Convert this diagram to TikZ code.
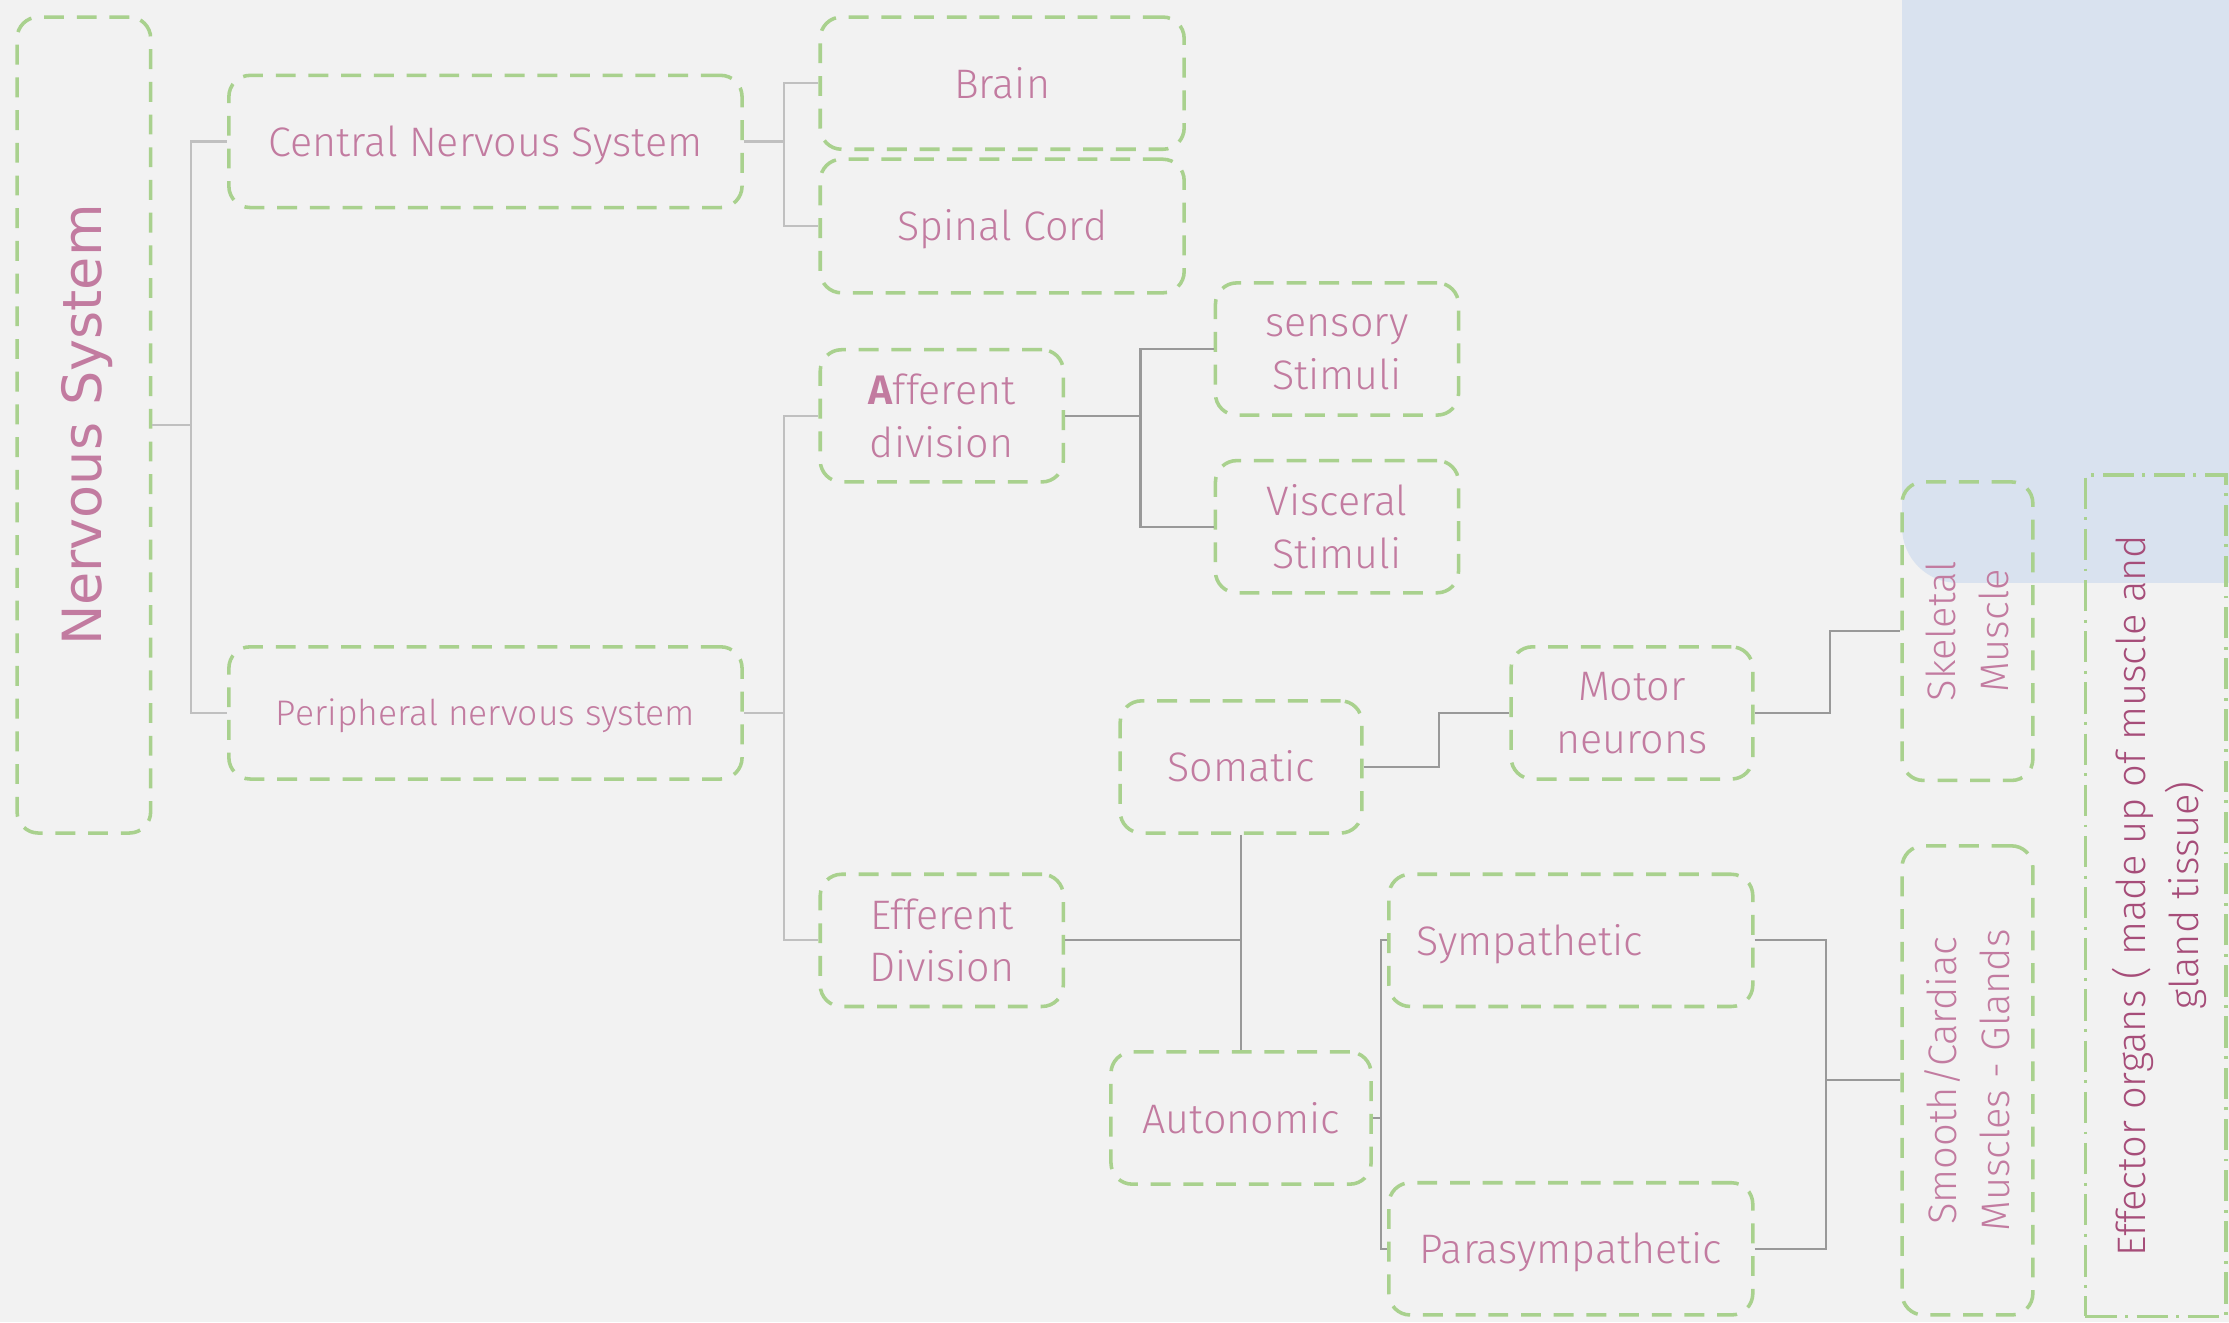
\documentclass[tikz,border=0pt]{standalone}
\usepackage{fontspec}
\setmainfont{Fira Sans Light}
\newfontfamily\nsfont{DejaVu Sans}
\definecolor{bg}{HTML}{F2F2F2}
\definecolor{grn}{HTML}{A9D18E}
\definecolor{pnk}{HTML}{C27BA0}
\definecolor{dpnk}{HTML}{A64D79}
\definecolor{blu}{HTML}{D9E2EF}
\definecolor{lnA}{HTML}{C0C0C0}
\definecolor{lnB}{HTML}{999999}
\begin{document}
\begin{tikzpicture}[x=1pt,y=-1pt,
 box/.style={draw=grn, line width=2.5pt, dash pattern=on 14pt off 9pt, rounded corners=15pt, text=pnk, font=\fontsize{29}{37}\selectfont, align=center, inner sep=0pt},
 one/.style={text height=26pt, text depth=5pt},
 rtext/.style={rotate=90, text=pnk, font=\fontsize{28}{37}\selectfont, align=center, inner sep=0pt},
 connA/.style={draw=lnA, line width=1.5pt},
 connB/.style={draw=lnB, line width=1.5pt}]
\useasboundingbox (0,0) rectangle (1568,930);
\clip (0,0) rectangle (1568,930);
\fill[bg] (0,0) rectangle (1568,930);
% blue panel
\fill[blu] (1620,-40) -- (1338,-40) -- (1338,371) .. controls (1338,392.5) and (1355.5,410) .. (1377,410) -- (1620,410) -- cycle;
% nodes
\node[box, minimum width=94pt, minimum height=574pt] (ns) at (59,299) {};
\node[rotate=90, text=pnk, font=\nsfont\fontsize{38}{44}\selectfont, inner sep=0pt] (nst) at (61,299) {Nervous System};
\node[box, one, minimum width=361pt, minimum height=93pt] (cns) at (341.5,99.5) {Central Nervous System};
\node[box, minimum width=361pt, minimum height=93pt, font=\fontsize{25}{30}\selectfont, text height=22pt, text depth=4pt] (pns) at (341.5,501.5) {Peripheral nervous system};
\node[box, one, minimum width=256pt, minimum height=93pt] (brain) at (705,58.5) {Brain};
\node[box, one, minimum width=256pt, minimum height=94pt] (spinal) at (705,159) {Spinal Cord};
\node[box, minimum width=171pt, minimum height=93pt] (aff) at (662.5,292.5) {\textbf{A}fferent\\division};
\node[box, minimum width=171pt, minimum height=93pt] (sens) at (940.5,245.5) {\vphantom{S}sensory\\Stimuli};
\node[box, minimum width=171pt, minimum height=93pt] (visc) at (940.5,370.5) {Visceral\\Stimuli};
\node[box, minimum width=171pt, minimum height=93pt] (eff) at (662.5,661.5) {Efferent\\Division};
\node[box, one, minimum width=170pt, minimum height=93pt] (som) at (873,539.5) {Somatic};
\node[box, one, minimum width=183pt, minimum height=93pt] (aut) at (873,786.5) {Autonomic};
\node[box, minimum width=170pt, minimum height=93pt] (mot) at (1148,501.5) {Motor\\neurons};
\node[box, one, minimum width=256pt, minimum height=93pt] (sym) at (1105,661.5) {\hspace*{-58pt}Sympathetic};
\node[box, one, minimum width=256pt, minimum height=93pt] (para) at (1105,878.5) {Parasympathetic};
\node[box, minimum width=92pt, minimum height=210pt] (sk) at (1384,444) {};
\node[rtext] (skt) at (sk) {Skeletal\\Muscle};
\node[box, minimum width=92pt, minimum height=330pt] (sm) at (1384,760) {};
\node[rtext] (smt) at (sm) {Smooth/Cardiac\\Muscles - Glands};
\node[draw=grn, line width=2.5pt, dash pattern=on 22pt off 6pt on 2pt off 6pt, minimum width=99pt, minimum height=592pt, inner sep=0pt] (effo) at (1516.5,630) {};
\node[rtext, text=dpnk] (effot) at (1519,630) {Effector organs ( made up of muscle and\\gland tissue)};
% connectors
\draw[connA] (ns.east) -- ++(27,0) coordinate (j1);
\draw[connA] (j1) |- (cns.west);
\draw[connA] (j1) |- (pns.west);
\draw[connA] (cns.east) -- ++(28,0) coordinate (j2);
\draw[connA] (j2) |- (brain.west);
\draw[connA] (j2) |- (spinal.west);
\draw[connA] (pns.east) -- ++(28,0) coordinate (j3);
\draw[connA] (j3) |- (aff.west);
\draw[connA] (j3) |- (eff.west);
\draw[connB] (aff.east) -- ++(53,0) coordinate (j4);
\draw[connB] (j4) |- (sens.west);
\draw[connB] (j4) |- (visc.west);
\draw[connB] (eff.east) -- (eff.east -| som.south);
\draw[connB] (som.south) -- (aut.north);
\draw[connB] (som.east) -- ++(53,0) |- (mot.west);
\draw[connB] (aut.east) -- ++(6,0) coordinate (j5);
\draw[connB] (j5) |- (sym.west);
\draw[connB] (j5) |- (para.west);
\draw[connB] (mot.east) -- ++(53,0) |- (sk.west);
\path (sm.west) ++(-52,0) coordinate (j6);
\draw[connB] (sym.east) -| (j6);
\draw[connB] (para.east) -| (j6);
\draw[connB] (j6) -- (sm.west);
\end{tikzpicture}
\end{document}
